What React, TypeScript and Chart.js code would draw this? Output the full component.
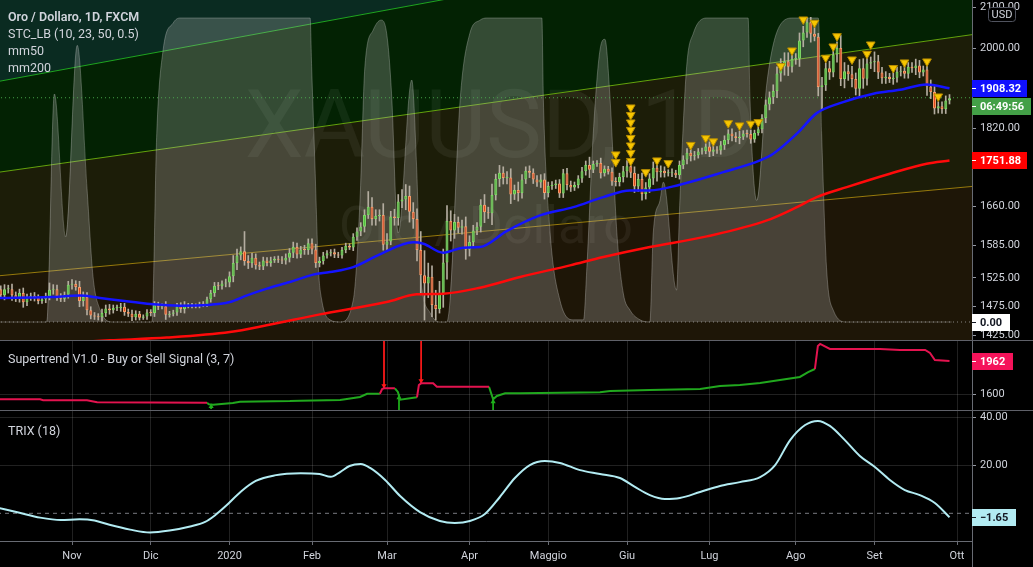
import React, { useEffect, useRef } from 'react';
import { Chart, registerables } from 'chart.js';

Chart.register(...registerables);

const FONT = 'Roboto, "Noto Sans", "DejaVu Sans", sans-serif';
const TEXT = '#d1d4dc';
const GRID = 'rgba(255,255,255,0.13)';
const AXIS_LINE = '#686b73';
const X_MIN = -0.2;
const X_MAX = 259;
const AXIS_W = 61;

// ---- axes / ticks ----
const monthTicks = [19, 40, 61, 83, 103, 125, 146, 167, 189, 212, 233, 255];
const monthLabels = ['Nov', 'Dic', '2020', 'Feb', 'Mar', 'Apr', 'Maggio', 'Giu', 'Lug', 'Ago', 'Set', 'Ott'];
const priceTicks = [1425, 1475, 1525, 1585, 1660, 1740, 1820, 1910, 2000, 2100];
const stTicks = [1600];
const trixTicks = [20, 40];

// ---- price data (daily bars, 7 Oct 2019 .. 29 Sep 2020) ----
const firstOpen = 1505;
const closes = [
  // Oct
  1494, 1505, 1505, 1494, 1489, 1498, 1482, 1490, 1493, 1490, 1484, 1487, 1492, 1504, 1505, 1492, 1488, 1495, 1513,
  // Nov
  1514, 1509, 1484, 1491, 1468, 1459, 1457, 1456, 1463, 1471, 1468, 1472, 1472, 1474, 1465, 1462, 1456, 1462, 1455, 1457, 1464,
  // Dec
  1463, 1477, 1474, 1475, 1460, 1462, 1464, 1475, 1470, 1476, 1476, 1476, 1475, 1479, 1478, 1487, 1498, 1511, 1510, 1515, 1517,
  // Jan
  1528, 1552, 1566, 1574, 1556, 1552, 1562, 1548, 1546, 1557, 1552, 1557, 1560, 1558, 1557, 1562, 1571, 1582, 1568, 1577, 1576, 1589,
  // Feb
  1577, 1552, 1556, 1566, 1570, 1572, 1568, 1566, 1576, 1584, 1581, 1601, 1611, 1620, 1643, 1659, 1635, 1641, 1643, 1586,
  // Mar
  1592, 1640, 1637, 1669, 1673, 1680, 1649, 1635, 1576, 1530, 1515, 1527, 1477, 1470, 1498, 1553, 1631, 1613, 1629, 1618, 1621, 1577,
  // Apr
  1591, 1613, 1620, 1663, 1648, 1646, 1682, 1714, 1727, 1716, 1717, 1683, 1692, 1686, 1713, 1731, 1727, 1713, 1707, 1713, 1686,
  // May
  1700, 1702, 1705, 1685, 1726, 1702, 1697, 1702, 1715, 1730, 1743, 1733, 1745, 1747, 1726, 1735, 1729, 1709, 1708, 1718, 1730,
  // Jun
  1740, 1727, 1699, 1714, 1684, 1697, 1715, 1737, 1728, 1731, 1726, 1727, 1727, 1722, 1743, 1754, 1768, 1761, 1763, 1771, 1772, 1781,
  // Jul
  1770, 1775, 1773, 1784, 1795, 1809, 1803, 1799, 1802, 1809, 1808, 1796, 1810, 1818, 1842, 1872, 1888, 1902, 1942, 1958, 1970, 1957, 1975,
  // Aug
  1976, 2019, 2038, 2063, 2035, 2028, 1911, 1915, 1954, 1944, 1986, 2001, 1929, 1947, 1940, 1929, 1907, 1954, 1930, 1965, 1968,
  // Sep
  1970, 1944, 1931, 1934, 1929, 1932, 1946, 1948, 1941, 1957, 1954, 1960, 1944, 1951, 1912, 1900, 1863, 1868, 1862, 1881, 1886,
];
const wickUp = [
  6, 8, 7, 9, 6, 7, 9, 6, 5, 6, 5, 4, 6, 12, 8, 7, 5, 5, 6,
  8, 6, 10, 9, 8, 6, 5, 5, 7, 6, 7, 5, 5, 6, 6, 5, 6, 5, 4, 3, 5,
  5, 6, 5, 4, 8, 4, 4, 5, 6, 7, 4, 4, 3, 3, 4, 4, 5, 6, 6, 5, 6,
  8, 14, 12, 8, 37, 10, 8, 7, 6, 6, 5, 6, 4, 5, 6, 7, 8, 9, 7, 6, 8, 8,
  8, 10, 7, 6, 5, 5, 6, 4, 5, 5, 4, 6, 7, 8, 10, 30, 18, 12, 10, 22,
  15, 10, 14, 14, 20, 23, 20, 18, 20, 35, 45, 25, 20, 26, 21, 25, 30, 20, 15, 10, 12, 18,
  12, 10, 8, 10, 20, 10, 22, 10, 15, 12, 12, 18, 10, 16, 10, 8, 10, 8, 8, 10, 12,
  8, 7, 7, 8, 8, 10, 8, 6, 6, 8, 8, 16, 6, 5, 10, 6, 5, 8, 8, 8, 10,
  12, 10, 12, 10, 12, 10, 10, 12, 18, 10, 8, 6, 8, 5, 8, 8, 9, 10, 8, 6, 6, 6,
  10, 8, 6, 8, 9, 8, 10, 8, 12, 6, 7, 8, 6, 5, 8, 10, 12, 14, 15, 18, 20, 20, 12,
  12, 18, 15, 12, 12, 15, 8, 18, 12, 16, 10, 15, 30, 20, 14, 18, 14, 20, 22, 15, 12,
  22, 14, 12, 12, 8, 12, 10, 10, 10, 10, 10, 15, 12, 8, 20, 15, 12, 10, 10, 10, 8,
];
const wickDn = [
  6, 8, 7, 9, 6, 7, 9, 6, 5, 6, 5, 4, 6, 6, 8, 7, 5, 5, 6,
  8, 6, 10, 9, 8, 6, 5, 5, 7, 6, 7, 5, 5, 6, 6, 5, 6, 5, 4, 3, 5,
  5, 6, 5, 4, 8, 4, 4, 5, 6, 7, 4, 4, 3, 3, 4, 4, 5, 6, 6, 5, 6,
  8, 10, 12, 8, 8, 10, 8, 7, 6, 6, 5, 6, 4, 5, 6, 7, 8, 9, 7, 6, 8, 8,
  8, 8, 7, 6, 5, 5, 6, 4, 5, 5, 4, 6, 7, 8, 10, 7, 12, 12, 10, 10,
  12, 6, 14, 14, 12, 20, 20, 18, 20, 35, 64, 25, 20, 19, 7, 25, 30, 20, 15, 10, 12, 18,
  12, 10, 8, 10, 20, 10, 22, 10, 15, 12, 12, 18, 10, 16, 10, 8, 10, 8, 8, 10, 12,
  8, 7, 7, 8, 8, 10, 8, 6, 6, 8, 8, 16, 6, 5, 10, 6, 5, 8, 8, 8, 10,
  12, 10, 12, 10, 12, 10, 10, 12, 18, 10, 8, 6, 8, 5, 8, 8, 9, 10, 8, 6, 6, 6,
  10, 8, 6, 8, 9, 8, 10, 8, 12, 6, 7, 8, 6, 5, 8, 10, 12, 14, 15, 18, 20, 20, 12,
  12, 18, 15, 12, 20, 10, 20, 50, 12, 16, 10, 18, 15, 20, 14, 18, 14, 20, 22, 15, 12,
  22, 14, 12, 12, 8, 12, 10, 10, 10, 10, 10, 15, 12, 8, 20, 15, 12, 10, 10, 10, 8,
];

// moving averages [barIndex, price]
const mm50 = [
  [-1, 1489], [13.1, 1491.0], [21.1, 1493.5], [26.5, 1489.2], [35.3, 1482.2], [40.6, 1478.2], [47.8, 1475.9],
  [55, 1477.0], [61.1, 1482.2], [65.7, 1494.0], [71, 1505.8], [77.1, 1517.7], [83.3, 1531.0], [87.8, 1535.6],
  [94, 1544.7], [101.1, 1568.1], [110, 1590.5], [112.7, 1588.0], [118, 1571.2], [123.3, 1580.5], [127.8, 1581.7],
  [134.9, 1611.9], [143.8, 1642.0], [152.7, 1658.2], [160.7, 1677.9], [167.8, 1691.2], [173.1, 1691.2],
  [181.1, 1702.7], [192.7, 1728.1], [202.5, 1752.2], [206, 1766.1], [212.3, 1808.4], [217.6, 1852.9],
  [223.8, 1874.9], [232.7, 1895.8], [239.8, 1904.8], [246.9, 1916.8], [253, 1908.32],
];
const mm200 = [
  [-1, 1406.6], [29.1, 1416.6], [44.3, 1421.2], [61.1, 1430.6], [70.9, 1442.0], [85.1, 1460.8], [102.9, 1482.2],
  [110.9, 1495.8], [118, 1497.0], [127.8, 1507.6], [138.5, 1526.6], [151.8, 1547.9], [160.7, 1563.1],
  [173.1, 1581.7], [188.3, 1601.8], [204.3, 1632.3], [212.3, 1658.2], [217.6, 1677.9], [225.6, 1697.8],
  [237.1, 1724.9], [246.9, 1745.4], [253, 1751.88],
];
// yellow sell markers [barIndex, price]
const signals = [
  [164, 1764.7], [164, 1748.7],
  [168, 1865.4], [168, 1848.9], [168, 1832.6], [168, 1816.5], [168, 1799.4], [168, 1783.5], [168, 1767.8], [168, 1751.1],
  [172, 1728.1], [175, 1752.2], [178, 1746.6], [184, 1784.6], [188, 1799.0], [190, 1792.1], [194, 1831.1],
  [197, 1826.2], [200, 1829.8], [202, 1833.3], [208, 1958.8], [211, 1995.3], [214, 2069.7], [217, 2061.6],
  [220, 1978.2], [222, 2004.7], [223, 2029.3], [227, 1974.2], [231, 1987.5], [232, 2009.5], [238, 1954.3],
  [241, 1967.3], [247, 1969.6], [250, 1889.8],
];
// STC_LB oscillator (0..100) [barIndex, value]
const stc = [
  [-1, 0], [12.25, 0], [14.3, 75], [17.3, 28], [20.4, 91], [23, 44], [24.6, 15], [26.5, 4], [29.9, 0], [40.3, 0],
  [41.6, 62], [43.3, 89.5], [46, 98.4], [47.8, 100], [82.5, 100], [82.9, 84], [83.8, 51], [84.7, 18], [85.6, 7.2],
  [87.8, 0.7], [90.5, 0], [94, 7.2], [95.8, 40], [97.1, 84], [99.3, 96], [101.4, 99.3], [102.9, 95], [104.3, 73],
  [105.5, 34.6], [106, 29.3], [109.6, 79.6], [110.9, 51], [111.8, 18], [114.5, 3], [117.1, 0], [118.9, 0],
  [119.8, 7], [122.5, 73], [125.1, 95], [127.8, 99.3], [129.6, 100], [144.3, 100], [144.7, 73], [146.5, 29.3],
  [149.1, 7.2], [152.7, 0.7], [155.4, 0.7], [156.3, 18], [158, 62], [159.8, 89.5], [161.1, 93], [162.5, 73],
  [164.3, 29.3], [166, 9.5], [167.8, 3.9], [170.5, 0.7], [173.1, 0], [174, 29.3], [175.8, 40], [176.7, 46],
  [180.2, 10.5], [181.1, 40], [182.9, 84], [184.7, 95], [188.3, 100], [199.3, 100], [199.8, 73], [201.6, 40],
  [204.3, 78.6], [207.8, 97.6], [211.3, 100], [218, 100], [218.9, 62], [220.2, 18], [222, 3.9], [225.6, 0],
  [253.6, 0],
];
// drawn channel lines [barIndex, price]
const chanTop = [[-1, 1923.0], [260, 2378.6]];
const chanMid = [[-1, 1727.4], [260, 2034.2]];
const chanLow = [[-1, 1528.6], [260, 1699.8]];
const lastPrice = 1886.9;
const lastMm50 = 1908.32;
const lastMm200 = 1751.88;
const lastStc = 0;

// Supertrend [barIndex, value]
const stRed = [
  [-1, 1542], [10.5, 1542], [11.3, 1531], [23, 1531], [25.7, 1509], [55, 1505], [55, null],
  [101.1, 1603], [101.7, 1655], [102.2, 1663], [105.1, 1663], [105.1, null],
  [111, 1564], [111.5, 1699], [112.1, 1717], [115.3, 1717], [116.3, 1680], [130.2, 1680], [130.2, null],
  [217.1, 1874], [217.9, 2127], [218.5, 2149], [221.1, 2094], [234.5, 2094], [239.8, 2083], [246.5, 2083],
  [247.8, 2050], [249.1, 1973], [253, 1962],
];
const stGreen = [
  [55, 1505], [55.5, 1487], [56.6, 1483], [61.9, 1501], [63.8, 1516], [77.1, 1523], [79.8, 1527], [90.5, 1534],
  [92.3, 1545], [95.8, 1567], [97.7, 1603], [101.1, 1603], [101.1, null],
  [105.1, 1663], [105.9, 1622], [106.5, 1538], [111, 1564], [111, null],
  [130.2, 1680], [131.3, 1542], [132.3, 1578], [134.5, 1608], [138.5, 1608], [159.8, 1619], [162.5, 1633],
  [173.1, 1644], [186.5, 1655], [191.8, 1688], [197.1, 1699], [202.5, 1721], [207.8, 1754], [213.1, 1787],
  [215.3, 1841], [217.1, 1874],
];
const stSell = [[102.2, 2300], [102.2, 1663], [102.2, null], [112.1, 2300], [112.1, 1717]];
const stSellHeads = [[102.2, 1690], [112.1, 1744]];
const stBuy = [[56.1, 1487], [56.1, 1435], [56.1, null], [106.2, 1600], [106.2, 1380], [106.2, null], [131.3, 1542], [131.3, 1380]];
const stBuyHeads = [[56.1, 1462], [106.2, 1560], [131.3, 1515]];
const lastSt = 1962;

// TRIX (18) [barIndex, value]
const trix = [
  [-1, 2.4], [5, 0.2], [10.5, -1.8], [16, -2.8], [21, -2.5], [25, -3.0], [29, -4.8], [34.5, -6.8], [39.8, -8.0],
  [45, -7.2], [50.5, -5.5], [54.5, -3.6], [57, -1.0], [60, 3.0], [64, 9.0], [68, 13.5], [73, 15.8], [80, 16.7],
  [85, 16.4], [88, 15.2], [90.5, 17.2], [93, 19.7], [96, 20.5], [98.5, 18.9], [102.5, 13.9], [106.5, 7.2],
  [111.8, 0.5], [117.1, -3.2], [121.1, -4.0], [125.1, -3.2], [129.1, -0.3], [133.1, 6.8], [137.1, 14.7],
  [141.1, 20.1], [145.1, 21.8], [149.1, 21.0], [154.5, 18.0], [159.8, 16.4], [165.1, 14.7], [169.1, 11.0],
  [173.1, 7.6], [177.1, 6.0], [181.1, 6.4], [186.5, 8.9], [191.8, 11.4], [197.1, 13.0], [202.5, 15.1],
  [206.5, 20.1], [210.5, 30.5], [214.5, 36.8], [217.9, 38.5], [221.1, 36.4], [225.1, 30.5], [229.1, 23.9],
  [233.1, 19.3], [237.1, 13.9], [241.1, 9.7], [245.1, 7.6], [249.1, 4.3], [253, -1.65],
];
const lastTrix = -1.65;

// ---- styles ----
const UP_FILL = '#52bd3e';
const UP_LINE = '#7bd664';
const DN_FILL = '#e2481d';
const DN_LINE = '#f59a68';
const WICK = '#b4ada0';
const BG_TEAL = '#0a2b21';
const BG_GREEN = '#032203';
const BG_OLIVE = '#1c1d08';
const BG_BROWN = '#1e1607';

const pts = (a: any[]) => a.map(([x, y]) => ({ x, y }));

function xAxis(show: boolean) {
  return {
    type: 'linear',
    position: 'bottom',
    min: X_MIN,
    max: X_MAX,
    offset: false,
    grid: { color: GRID, offset: false, drawTicks: show, tickLength: 4, tickColor: AXIS_LINE },
    border: { display: show, color: AXIS_LINE },
    ticks: {
      display: show,
      autoSkip: false,
      maxRotation: 0,
      color: TEXT,
      font: { family: FONT, size: 11 },
      padding: 5,
      callback: (v: number) => {
        const k = monthTicks.indexOf(v);
        return k >= 0 ? monthLabels[k] : '';
      },
    },
    afterBuildTicks: (s: any) => {
      s.ticks = monthTicks.map((v) => ({ value: v }));
    },
    afterFit: (s: any) => {
      s.height = show ? 26 : 0;
      s.paddingLeft = 0;
      s.paddingRight = 0;
      s.paddingTop = 0;
      s.paddingBottom = 0;
    },
  };
}

function yAxis(type: string, min: number, max: number, tickVals: number[], fmt: (v: number) => string) {
  return {
    type,
    position: 'right',
    min,
    max,
    grid: { color: GRID, drawTicks: true, tickLength: 4, tickColor: '#9598a1' },
    border: { display: true, color: AXIS_LINE },
    ticks: {
      color: TEXT,
      font: { family: FONT, size: 11 },
      padding: 4,
      autoSkip: false,
      callback: (v: any) => fmt(Number(v)),
    },
    afterBuildTicks: (s: any) => {
      s.ticks = tickVals.map((v) => ({ value: v }));
    },
    afterFit: (s: any) => {
      s.width = AXIS_W;
      s.paddingTop = 0;
      s.paddingBottom = 0;
      s.paddingLeft = 0;
      s.paddingRight = 0;
    },
  };
}

function line(data: any[], color: string, width: number, order: number, extra: any = {}) {
  return { type: 'line', data, borderColor: color, borderWidth: width, pointRadius: 0, order, ...extra };
}

function labelBox(ctx: any, x: number, yc: number, w: number, bg: string, fg: string, text: string) {
  const h = 17;
  const top = Math.round(yc - h / 2);
  ctx.fillStyle = bg;
  ctx.fillRect(x, top, w, h);
  ctx.fillStyle = fg;
  ctx.fillRect(x, top + 8, 4, 1);
  ctx.font = `bold 11px ${FONT}`;
  ctx.textAlign = 'left';
  ctx.textBaseline = 'middle';
  ctx.fillText(text, x + 8, top + h / 2 + 0.5);
}

const commonOptions = {
  responsive: true,
  maintainAspectRatio: false,
  animation: false,
  events: [],
  layout: { padding: 0, autoPadding: false },
  plugins: { legend: { display: false }, tooltip: { enabled: false } },
};

function mainConfig(): any {
  const wicks: any[] = [];
  const bodies: any[] = [];
  const bg: string[] = [];
  const bd: string[] = [];
  let open = firstOpen;
  closes.forEach((c, i) => {
    const top = Math.max(open, c);
    const bot = Math.min(open, c);
    wicks.push({ x: i, y: [bot - wickDn[i], top + wickUp[i]] });
    bodies.push({ x: i, y: [bot, top] });
    const up = c >= open;
    bg.push(up ? UP_FILL : DN_FILL);
    bd.push(up ? UP_LINE : DN_LINE);
    open = c;
  });
  const flat = (v: number) => [{ x: -1, y: v }, { x: 260, y: v }];

  const overlay = {
    id: 'mainOverlay',
    afterDatasetDraw(chart: any, args: any) {
      if (args.index !== 11) return;
      const { ctx, chartArea } = chart;
      ctx.save();
      ctx.beginPath();
      ctx.rect(chartArea.left, chartArea.top, chartArea.right - chartArea.left, chartArea.bottom - chartArea.top);
      ctx.clip();
      ctx.fillStyle = 'rgba(255,255,255,0.06)';
      ctx.textAlign = 'center';
      ctx.textBaseline = 'alphabetic';
      ctx.font = `94px ${FONT}`;
      ctx.fillText('XAUUSD, 1D', 500, 157);
      ctx.font = `52px ${FONT}`;
      ctx.fillText('Oro / Dollaro', 486, 243);
      ctx.restore();
    },
    afterDraw(chart: any) {
      const { ctx } = chart;
      const y = chart.scales.y;
      const ys = chart.scales.ys;
      const x0 = chart.chartArea.right;
      ctx.save();
      // legend
      ctx.fillStyle = TEXT;
      ctx.textAlign = 'left';
      ctx.textBaseline = 'alphabetic';
      ctx.font = `600 12.5px ${FONT}`;
      ctx.fillText('Oro / Dollaro, 1D, FXCM', 8, 21);
      ctx.font = `12.5px ${FONT}`;
      ctx.fillText('STC_LB (10, 23, 50, 0.5)', 8, 38);
      ctx.fillText('mm50', 8, 55);
      ctx.fillText('mm200', 8, 72);
      // current price / countdown
      const py = Math.round(y.getPixelForValue(lastPrice));
      ctx.fillStyle = '#43a047';
      ctx.fillRect(x0, py, 59, 17);
      ctx.fillStyle = '#ffffff';
      ctx.fillRect(x0, py + 8, 4, 1);
      ctx.font = `bold 11px ${FONT}`;
      ctx.textBaseline = 'middle';
      ctx.fillText('06:49:56', x0 + 8, py + 9);
      labelBox(ctx, x0, y.getPixelForValue(lastMm50), 55, '#1010ff', '#ffffff', lastMm50.toFixed(2));
      labelBox(ctx, x0, y.getPixelForValue(lastMm200), 55, '#ff0000', '#ffffff', lastMm200.toFixed(2));
      labelBox(ctx, x0, ys.getPixelForValue(lastStc), 38, '#ffffff', '#131722', lastStc.toFixed(2));
      // USD badge
      ctx.fillStyle = '#000000';
      ctx.strokeStyle = '#50535e';
      ctx.lineWidth = 1;
      ctx.beginPath();
      if (ctx.roundRect) ctx.roundRect(988.5, 7.5, 27, 14, 3);
      else ctx.rect(988.5, 7.5, 27, 14);
      ctx.fill();
      ctx.stroke();
      ctx.fillStyle = TEXT;
      ctx.font = `11px ${FONT}`;
      ctx.textAlign = 'center';
      ctx.textBaseline = 'middle';
      ctx.fillText('USD', 1002, 15);
      ctx.restore();
    },
  };

  return {
    type: 'line',
    data: {
      datasets: [
        {
          type: 'line', data: pts(signals), showLine: false, pointStyle: 'triangle', rotation: 180,
          pointRadius: 5, backgroundColor: '#f7c600', borderColor: '#b88d00', borderWidth: 1, order: 0,
        },
        line(pts(mm50), '#1414ff', 2.5, 1, { cubicInterpolationMode: 'monotone' }),
        line(pts(mm200), '#ff0a0a', 2.5, 1, { cubicInterpolationMode: 'monotone' }),
        {
          type: 'bar', data: bodies, backgroundColor: bg, borderColor: bd, borderWidth: 1, borderSkipped: false,
          grouped: false, categoryPercentage: 1, barPercentage: 0.8, maxBarThickness: 3, minBarLength: 1, order: 2,
        },
        {
          type: 'bar', data: wicks, backgroundColor: WICK, borderWidth: 0, grouped: false,
          categoryPercentage: 1, barPercentage: 1, maxBarThickness: 1, order: 3,
        },
        line(flat(lastPrice), 'rgba(76,175,80,0.9)', 1, 4, { borderDash: [1, 3] }),
        line(pts(chanTop), '#1fa51f', 1, 5),
        line(pts(chanMid), '#64a30c', 1, 5),
        line(pts(chanLow), '#977a0c', 1, 5),
        line(flat(0), 'rgba(160,160,160,0.8)', 1, 4.5, { yAxisID: 'ys', borderDash: [1, 3] }),
        line(pts(stc), 'rgba(215,215,215,0.3)', 1, 4.6, {
          yAxisID: 'ys', fill: 'origin', backgroundColor: 'rgba(200,200,200,0.25)', cubicInterpolationMode: 'monotone',
        }),
        line(pts(chanTop), 'rgba(0,0,0,0)', 0, 10, { fill: 'end', backgroundColor: BG_TEAL }),
        line(pts(chanTop), 'rgba(0,0,0,0)', 0, 11, { fill: 13, backgroundColor: BG_GREEN }),
        line(pts(chanMid), 'rgba(0,0,0,0)', 0, 12, { fill: 14, backgroundColor: BG_OLIVE }),
        line(pts(chanLow), 'rgba(0,0,0,0)', 0, 13, { fill: 'start', backgroundColor: BG_BROWN }),
      ],
    },
    options: {
      ...commonOptions,
      scales: {
        x: xAxis(false),
        y: yAxis('logarithmic', 1417.2, 2117.9, priceTicks, (v) => v.toFixed(2)),
        ys: { type: 'linear', display: false, min: -5.92, max: 105.92 },
      },
    },
    plugins: [overlay],
  };
}

function stConfig(): any {
  const overlay = {
    id: 'stOverlay',
    afterDraw(chart: any) {
      const { ctx } = chart;
      ctx.save();
      ctx.fillStyle = TEXT;
      ctx.textAlign = 'left';
      ctx.textBaseline = 'alphabetic';
      ctx.font = `12.5px ${FONT}`;
      ctx.fillText('Supertrend V1.0 - Buy or Sell Signal (3, 7)', 8, 22);
      labelBox(ctx, chart.chartArea.right, chart.scales.y.getPixelForValue(lastSt), 41, '#f5135a', '#ffffff', String(lastSt));
      ctx.restore();
    },
  };
  return {
    type: 'line',
    data: {
      datasets: [
        line(pts(stSell), '#ff1a1a', 1, 3),
        {
          type: 'line', data: pts(stSellHeads), showLine: false, pointStyle: 'triangle', rotation: 180,
          pointRadius: 3, backgroundColor: '#ff1a1a', borderWidth: 0, order: 2,
        },
        line(pts(stBuy), '#1fb01b', 1, 3),
        {
          type: 'line', data: pts(stBuyHeads), showLine: false, pointStyle: 'triangle', rotation: 0,
          pointRadius: 3, backgroundColor: '#1fb01b', borderWidth: 0, order: 2,
        },
        line(pts(stRed), '#e3134f', 2, 1),
        line(pts(stGreen), '#21a81e', 2, 1),
      ],
    },
    options: {
      ...commonOptions,
      scales: {
        x: xAxis(false),
        y: yAxis('linear', 1424.5, 2181.4, stTicks, (v) => String(Math.round(v))),
      },
    },
    plugins: [overlay],
  };
}

function trixConfig(): any {
  const overlay = {
    id: 'trixOverlay',
    afterDraw(chart: any) {
      const { ctx } = chart;
      ctx.save();
      ctx.fillStyle = TEXT;
      ctx.textAlign = 'left';
      ctx.textBaseline = 'alphabetic';
      ctx.font = `12.5px ${FONT}`;
      ctx.fillText('TRIX (18)', 8, 24);
      labelBox(ctx, chart.chartArea.right, chart.scales.y.getPixelForValue(lastTrix), 44, '#b2ebf2', '#131722',
        '\u2212' + Math.abs(lastTrix).toFixed(2));
      ctx.restore();
    },
  };
  return {
    type: 'line',
    data: {
      datasets: [
        line(pts(trix), '#b2ebf2', 2, 1, { cubicInterpolationMode: 'monotone' }),
        line([{ x: -1, y: 0 }, { x: 260, y: 0 }], 'rgba(150,152,160,0.8)', 1, 2, { borderDash: [4, 4] }),
      ],
    },
    options: {
      ...commonOptions,
      scales: {
        x: xAxis(true),
        y: yAxis('linear', -11.54, 42.63, trixTicks, (v) => v.toFixed(2)),
      },
    },
    plugins: [overlay],
  };
}

export default function App() {
  const mainRef = useRef<HTMLCanvasElement>(null);
  const stRef = useRef<HTMLCanvasElement>(null);
  const trixRef = useRef<HTMLCanvasElement>(null);

  useEffect(() => {
    const charts = [
      new Chart(mainRef.current as HTMLCanvasElement, mainConfig()),
      new Chart(stRef.current as HTMLCanvasElement, stConfig()),
      new Chart(trixRef.current as HTMLCanvasElement, trixConfig()),
    ];
    return () => charts.forEach((c) => c.destroy());
  }, []);

  const abs = (top: number, height: number, extra: any = {}) => ({
    position: 'absolute' as const, left: 0, top, width: 1033, height, ...extra,
  });

  return (
    <div style={{ position: 'absolute', left: 0, top: 0, width: 1033, height: 567, background: '#000', overflow: 'hidden' }}>
      <div style={abs(0, 340)}><canvas ref={mainRef} /></div>
      <div style={abs(340, 1, { background: '#5f6169' })} />
      <div style={abs(341, 69)}><canvas ref={stRef} /></div>
      <div style={abs(410, 1, { background: '#5f6169' })} />
      <div style={abs(411, 156)}><canvas ref={trixRef} /></div>
      <div style={{ position: 'absolute', left: 972, top: 541, width: 1, height: 26, background: AXIS_LINE }} />
    </div>
  );
}
